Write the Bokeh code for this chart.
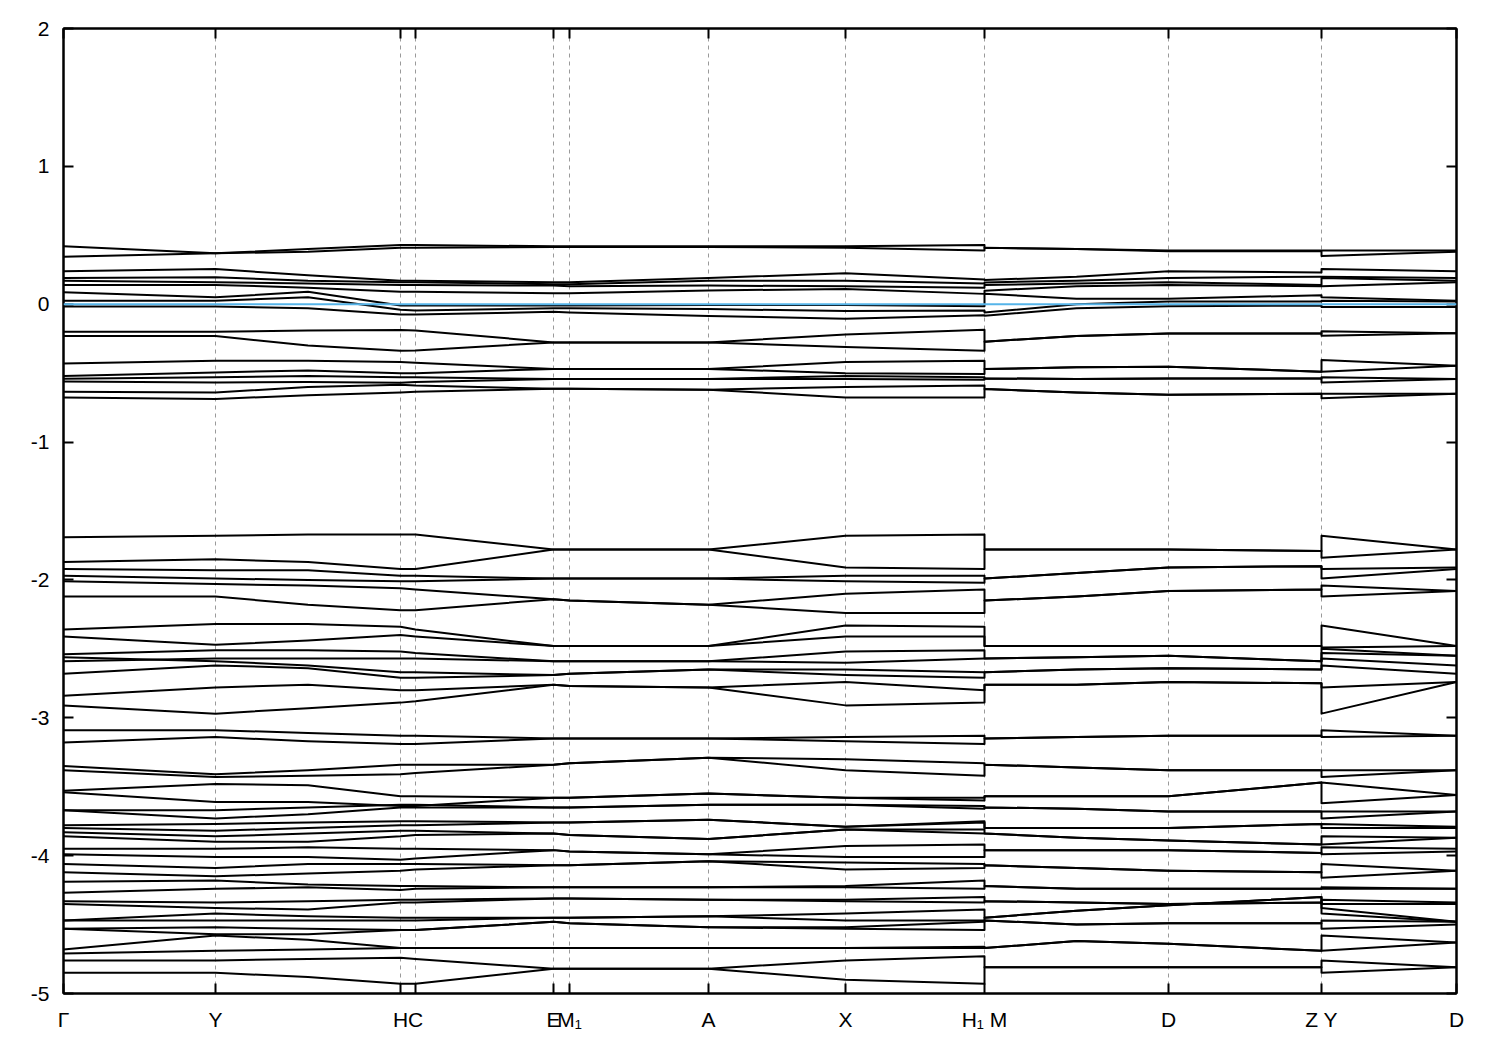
from bokeh.plotting import figure
from bokeh.models import FixedTicker, LinearAxis, Range1d, Span
from bokeh.embed import file_html
from bokeh.resources import INLINE

# high-symmetry points along the k-path (path distance, arbitrary units)
kpoint_pos = [0, 152, 337, 352, 490, 506, 645, 782, 921, 1105, 1258, 1393]
kpoint_labels = ["Γ", "Y", "H", "C", "E", "M₁", "A", "X", "H₁ M", "D", "Z Y", "D"]

# path positions where band energies were read:
# Γ, Y, Y-H, H, C, E, M1, A, X, H1, M, M-D, D, Z, Y, D
k_samples = [0, 152, 244.5, 337, 352, 490, 506, 645, 782, 921, 921, 1013, 1105, 1258, 1258, 1393]

y_ticks = [-5, -4, -3, -2, -1, 0, 1, 2]

# bands around the Fermi level (eV)
bands_fermi = [
    [0.42, 0.37, 0.40, 0.43, 0.43, 0.42, 0.42, 0.42, 0.42, 0.43, 0.41, 0.40, 0.39, 0.39, 0.39, 0.39],
    [0.345, 0.37, 0.38, 0.41, 0.41, 0.415, 0.415, 0.415, 0.41, 0.39, 0.41, 0.40, 0.385, 0.385, 0.35, 0.38],
    [0.24, 0.255, 0.21, 0.17, 0.17, 0.16, 0.16, 0.19, 0.225, 0.18, 0.175, 0.20, 0.24, 0.23, 0.255, 0.24],
    [0.19, 0.195, 0.17, 0.16, 0.16, 0.145, 0.145, 0.17, 0.17, 0.15, 0.158, 0.17, 0.19, 0.20, 0.20, 0.19],
    [0.17, 0.16, 0.15, 0.14, 0.14, 0.135, 0.13, 0.135, 0.13, 0.12, 0.14, 0.15, 0.16, 0.14, 0.19, 0.17],
    [0.14, 0.14, 0.12, 0.09, 0.09, 0.08, 0.08, 0.10, 0.11, 0.075, 0.098, 0.13, 0.14, 0.13, 0.13, 0.16],
    [0.086, 0.05, 0.09, -0.01, -0.01, -0.01, -0.01, -0.005, -0.005, -0.015, 0.076, 0.04, 0.04, 0.065, 0.05, 0.025],
    [0.025, 0.025, 0.05, -0.04, -0.045, -0.03, -0.03, -0.035, -0.05, -0.045, -0.06, 0.0, 0.02, 0.02, 0.025, 0.02],
    [-0.016, -0.016, -0.03, -0.075, -0.075, -0.055, -0.06, -0.085, -0.105, -0.08, -0.083, -0.03, -0.015, -0.01, -0.02, -0.02],
]

bands_upper = [
    [-0.20, -0.20, -0.19, -0.187, -0.19, -0.277, -0.277, -0.277, -0.22, -0.185, -0.272, -0.23, -0.212, -0.212, -0.197, -0.21],
    [-0.23, -0.23, -0.30, -0.337, -0.335, -0.277, -0.277, -0.277, -0.31, -0.337, -0.272, -0.23, -0.212, -0.212, -0.229, -0.21],
    [-0.43, -0.41, -0.41, -0.42, -0.425, -0.47, -0.47, -0.47, -0.42, -0.41, -0.47, -0.458, -0.453, -0.49, -0.405, -0.446],
    [-0.52, -0.495, -0.48, -0.50, -0.50, -0.47, -0.47, -0.47, -0.50, -0.506, -0.47, -0.458, -0.453, -0.49, -0.49, -0.446],
    [-0.54, -0.53, -0.52, -0.53, -0.53, -0.543, -0.543, -0.543, -0.52, -0.53, -0.538, -0.543, -0.538, -0.538, -0.53, -0.543],
    [-0.56, -0.567, -0.565, -0.57, -0.565, -0.543, -0.543, -0.543, -0.543, -0.548, -0.538, -0.543, -0.538, -0.538, -0.567, -0.543],
    [-0.635, -0.64, -0.60, -0.585, -0.59, -0.613, -0.613, -0.62, -0.60, -0.59, -0.615, -0.64, -0.656, -0.65, -0.65, -0.65],
    [-0.676, -0.688, -0.66, -0.64, -0.635, -0.613, -0.613, -0.62, -0.676, -0.676, -0.615, -0.64, -0.656, -0.65, -0.683, -0.65],
]

bands_middle = [
    [-1.69, -1.68, -1.67, -1.67, -1.67, -1.78, -1.78, -1.78, -1.68, -1.67, -1.78, -1.78, -1.78, -1.79, -1.68, -1.78],
    [-1.87, -1.85, -1.87, -1.92, -1.92, -1.78, -1.78, -1.78, -1.91, -1.92, -1.78, -1.78, -1.78, -1.79, -1.84, -1.78],
    [-1.92, -1.93, -1.93, -1.97, -1.97, -1.99, -1.99, -1.99, -1.97, -1.97, -1.99, -1.95, -1.91, -1.90, -1.92, -1.91],
    [-1.97, -1.99, -2.00, -2.01, -2.01, -1.99, -1.99, -1.99, -2.01, -2.02, -1.99, -1.95, -1.91, -1.90, -1.99, -1.92],
    [-2.01, -2.03, -2.04, -2.06, -2.07, -2.14, -2.15, -2.18, -2.10, -2.07, -2.15, -2.12, -2.08, -2.07, -2.04, -2.08],
    [-2.12, -2.12, -2.18, -2.22, -2.22, -2.14, -2.15, -2.18, -2.24, -2.24, -2.15, -2.12, -2.08, -2.07, -2.12, -2.08],
    [-2.36, -2.32, -2.32, -2.34, -2.36, -2.48, -2.48, -2.48, -2.33, -2.34, -2.48, -2.48, -2.48, -2.48, -2.33, -2.48],
    [-2.41, -2.47, -2.44, -2.40, -2.41, -2.48, -2.48, -2.48, -2.41, -2.41, -2.48, -2.48, -2.48, -2.48, -2.49, -2.48],
    [-2.54, -2.51, -2.51, -2.52, -2.53, -2.59, -2.59, -2.59, -2.52, -2.51, -2.57, -2.56, -2.55, -2.59, -2.50, -2.55],
    [-2.59, -2.57, -2.57, -2.57, -2.57, -2.59, -2.59, -2.59, -2.60, -2.57, -2.57, -2.56, -2.55, -2.59, -2.53, -2.55],
    [-2.56, -2.59, -2.62, -2.67, -2.67, -2.69, -2.68, -2.65, -2.65, -2.67, -2.67, -2.65, -2.64, -2.65, -2.57, -2.62],
    [-2.68, -2.62, -2.64, -2.71, -2.71, -2.69, -2.68, -2.65, -2.69, -2.71, -2.67, -2.65, -2.64, -2.65, -2.62, -2.68],
    [-2.84, -2.78, -2.76, -2.80, -2.80, -2.76, -2.77, -2.78, -2.74, -2.80, -2.76, -2.76, -2.74, -2.75, -2.78, -2.74],
    [-2.91, -2.97, -2.93, -2.89, -2.88, -2.76, -2.77, -2.78, -2.91, -2.89, -2.76, -2.76, -2.74, -2.75, -2.97, -2.74],
]

bands_lower = [
    [-3.09, -3.09, -3.11, -3.13, -3.13, -3.15, -3.15, -3.15, -3.14, -3.13, -3.15, -3.14, -3.13, -3.13, -3.09, -3.13],
    [-3.18, -3.14, -3.17, -3.19, -3.19, -3.15, -3.15, -3.15, -3.17, -3.19, -3.15, -3.14, -3.13, -3.13, -3.14, -3.13],
    [-3.35, -3.41, -3.38, -3.34, -3.34, -3.34, -3.33, -3.29, -3.30, -3.33, -3.34, -3.36, -3.38, -3.38, -3.38, -3.38],
    [-3.38, -3.43, -3.42, -3.41, -3.40, -3.34, -3.33, -3.29, -3.38, -3.42, -3.34, -3.36, -3.38, -3.38, -3.43, -3.38],
    [-3.53, -3.48, -3.49, -3.57, -3.57, -3.58, -3.58, -3.55, -3.58, -3.58, -3.57, -3.57, -3.57, -3.47, -3.47, -3.56],
    [-3.54, -3.61, -3.61, -3.64, -3.64, -3.58, -3.58, -3.55, -3.58, -3.60, -3.57, -3.57, -3.57, -3.47, -3.62, -3.56],
    [-3.67, -3.67, -3.65, -3.63, -3.63, -3.65, -3.65, -3.63, -3.63, -3.64, -3.65, -3.66, -3.68, -3.68, -3.68, -3.68],
    [-3.67, -3.73, -3.70, -3.65, -3.65, -3.65, -3.65, -3.63, -3.63, -3.66, -3.65, -3.66, -3.68, -3.68, -3.73, -3.68],
    [-3.78, -3.77, -3.76, -3.75, -3.75, -3.76, -3.76, -3.74, -3.79, -3.75, -3.80, -3.80, -3.80, -3.77, -3.77, -3.79],
    [-3.80, -3.82, -3.80, -3.78, -3.78, -3.76, -3.76, -3.74, -3.79, -3.76, -3.80, -3.80, -3.80, -3.77, -3.80, -3.80],
    [-3.83, -3.86, -3.84, -3.82, -3.82, -3.84, -3.85, -3.88, -3.81, -3.81, -3.84, -3.87, -3.89, -3.92, -3.86, -3.87],
    [-3.86, -3.90, -3.90, -3.86, -3.85, -3.84, -3.85, -3.88, -3.81, -3.84, -3.84, -3.87, -3.89, -3.92, -3.92, -3.87],
    [-3.95, -3.95, -3.94, -3.95, -3.95, -3.96, -3.97, -3.99, -3.93, -3.92, -3.96, -3.96, -3.96, -3.98, -3.94, -3.95],
    [-3.99, -4.01, -4.01, -4.03, -4.02, -3.96, -3.97, -3.99, -4.01, -4.01, -3.96, -3.96, -3.96, -3.98, -3.99, -3.97],
    [-4.06, -4.09, -4.06, -4.06, -4.06, -4.07, -4.07, -4.04, -4.05, -4.06, -4.07, -4.09, -4.11, -4.12, -4.06, -4.11],
    [-4.12, -4.15, -4.13, -4.11, -4.10, -4.07, -4.07, -4.04, -4.10, -4.09, -4.07, -4.09, -4.11, -4.12, -4.16, -4.11],
    [-4.19, -4.18, -4.21, -4.22, -4.22, -4.23, -4.23, -4.23, -4.22, -4.18, -4.22, -4.24, -4.24, -4.24, -4.23, -4.24],
    [-4.27, -4.24, -4.23, -4.25, -4.24, -4.23, -4.23, -4.23, -4.23, -4.24, -4.22, -4.24, -4.24, -4.24, -4.24, -4.24],
    [-4.33, -4.34, -4.33, -4.32, -4.32, -4.31, -4.31, -4.32, -4.32, -4.30, -4.33, -4.34, -4.35, -4.34, -4.32, -4.34],
    [-4.35, -4.38, -4.39, -4.34, -4.34, -4.31, -4.31, -4.32, -4.33, -4.34, -4.33, -4.34, -4.35, -4.34, -4.35, -4.35],
    [-4.47, -4.42, -4.44, -4.45, -4.45, -4.45, -4.45, -4.44, -4.42, -4.39, -4.45, -4.40, -4.36, -4.30, -4.38, -4.48],
    [-4.47, -4.47, -4.47, -4.47, -4.47, -4.45, -4.45, -4.44, -4.47, -4.47, -4.45, -4.40, -4.36, -4.30, -4.42, -4.48],
    [-4.53, -4.52, -4.53, -4.54, -4.54, -4.48, -4.49, -4.52, -4.52, -4.48, -4.47, -4.50, -4.49, -4.49, -4.47, -4.48],
    [-4.53, -4.57, -4.57, -4.54, -4.54, -4.48, -4.49, -4.52, -4.53, -4.54, -4.47, -4.50, -4.49, -4.49, -4.53, -4.50],
    [-4.68, -4.58, -4.61, -4.67, -4.67, -4.67, -4.67, -4.67, -4.67, -4.66, -4.67, -4.62, -4.64, -4.69, -4.58, -4.63],
    [-4.71, -4.69, -4.68, -4.67, -4.67, -4.67, -4.67, -4.67, -4.67, -4.67, -4.67, -4.62, -4.64, -4.69, -4.69, -4.63],
    [-4.76, -4.76, -4.75, -4.74, -4.75, -4.82, -4.82, -4.82, -4.76, -4.73, -4.81, -4.81, -4.81, -4.81, -4.76, -4.81],
    [-4.85, -4.85, -4.88, -4.93, -4.93, -4.82, -4.82, -4.82, -4.90, -4.93, -4.81, -4.81, -4.81, -4.81, -4.85, -4.81],
]

fermi_level = 0.0

all_bands = bands_fermi + bands_upper + bands_middle + bands_lower

LABEL_FONT = "Liberation Sans"

p = figure(frame_width=1393, frame_height=965,
           x_range=Range1d(kpoint_pos[0], kpoint_pos[-1]), y_range=Range1d(-5, 2),
           output_backend="svg", toolbar_location=None,
           min_border_left=63, min_border_right=36, min_border_top=28, min_border_bottom=49,
           background_fill_color="white", border_fill_color="white")

p.outline_line_color = "black"
p.outline_line_width = 2

# vertical dashed lines at the high-symmetry points
p.xgrid.ticker = FixedTicker(ticks=kpoint_pos[1:-1])
p.xgrid.grid_line_color = "#9a9a9a"
p.xgrid.grid_line_dash = "4 4"
p.xgrid.grid_line_width = 1
p.ygrid.visible = False

# bottom axis
xa = p.xaxis[0]
xa.ticker = FixedTicker(ticks=kpoint_pos)
xa.major_label_overrides = {k: lab for k, lab in zip(kpoint_pos, kpoint_labels)}
xa.major_tick_in = 10
xa.major_tick_out = 0
xa.minor_tick_line_color = None
xa.major_tick_line_width = 2
xa.axis_line_width = 2
xa.major_label_standoff = 14
xa.major_label_text_font = LABEL_FONT
xa.major_label_text_font_size = "21px"
xa.major_label_text_color = "black"

# left axis
ya = p.yaxis[0]
ya.ticker = FixedTicker(ticks=y_ticks)
ya.major_label_overrides = {t: str(t) for t in y_ticks}
ya.major_tick_in = 10
ya.major_tick_out = 0
ya.minor_tick_line_color = None
ya.major_tick_line_width = 2
ya.axis_line_width = 2
ya.major_label_standoff = 14
ya.major_label_text_font = LABEL_FONT
ya.major_label_text_font_size = "21px"
ya.major_label_text_color = "black"

# mirrored ticks on the right and top
ra = LinearAxis(ticker=FixedTicker(ticks=y_ticks),
                major_label_overrides={t: "" for t in y_ticks},
                major_tick_in=10, major_tick_out=0, minor_tick_line_color=None,
                major_tick_line_width=2, axis_line_width=2)
p.add_layout(ra, "right")
ta = LinearAxis(ticker=FixedTicker(ticks=kpoint_pos),
                major_label_overrides={k: "" for k in kpoint_pos},
                major_tick_in=10, major_tick_out=0, minor_tick_line_color=None,
                major_tick_line_width=2, axis_line_width=2)
p.add_layout(ta, "above")

# bands
p.multi_line(xs=[k_samples] * len(all_bands), ys=all_bands,
             line_color="black", line_width=2, line_join="round")

# Fermi level
p.add_layout(Span(location=fermi_level, dimension="width",
                  line_color="#56b4e9", line_width=2))

open("out.html", "w").write(file_html(p, INLINE))
